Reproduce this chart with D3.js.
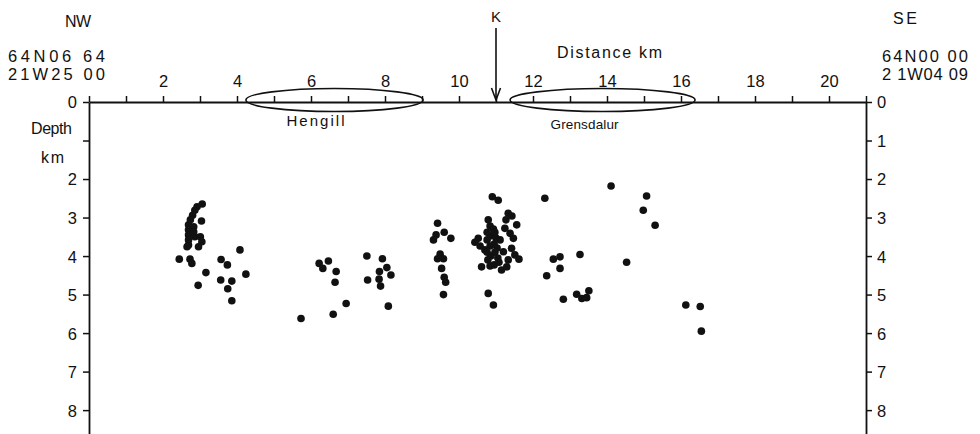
<!DOCTYPE html>
<html>
<head>
<meta charset="utf-8">
<script src="https://cdn.jsdelivr.net/npm/d3@7"></script>
<style>
  body { margin: 0; background: #fff; }
  svg text { font-family: "Liberation Sans", Arial, sans-serif; fill: #111; }
</style>
</head>
<body>
<svg id="chart" width="980" height="434"></svg>
<script>
// earthquake hypocentres: distance along profile (km) and depth (km)
const distKm = [
  3.06, 2.92, 2.86, 2.80, 2.74, 3.04, 2.69, 2.69, 2.69, 2.69, 2.69, 2.83, 2.83, 2.86, 3.01, 3.05, 2.96, 2.65,
  4.08, 2.44, 2.73, 2.78, 3.57, 3.74, 3.16, 4.24, 3.56, 3.86, 2.95, 3.75, 3.86,
  5.73, 6.22, 6.32, 6.47, 6.68, 6.65, 6.95, 6.60,
  7.51, 7.93, 8.05, 7.85, 8.16, 7.53, 7.84, 7.88, 8.09,
  9.42, 9.38, 9.31, 9.60, 9.78, 9.49, 9.42, 9.58, 9.53, 9.60, 9.64, 9.58,
  10.90, 11.06, 11.33, 11.43, 11.27, 11.56, 10.79, 10.84, 10.93, 11.24, 11.38, 11.47, 10.52, 10.43, 10.57,
  10.84, 11.00, 10.84, 11.03, 10.86, 11.05, 10.95, 10.70, 11.20, 11.42, 11.51, 11.62, 11.33, 10.61, 11.15,
  11.29, 10.79, 10.93, 11.11, 10.78,
  10.76, 10.97, 10.76, 10.95, 10.76, 10.97, 11.08, 10.84,
  12.32, 12.55, 12.73, 12.73, 12.37, 12.82, 13.27, 13.18, 13.32, 13.45, 13.51,
  14.11, 15.07, 14.98, 15.30, 14.53, 16.13, 16.52, 16.55
];
const depthKm = [
  2.65, 2.72, 2.81, 2.94, 3.06, 3.09, 3.19, 3.32, 3.45, 3.58, 3.71, 3.24, 3.37, 3.50, 3.50, 3.63, 3.76, 3.76,
  3.84, 4.08, 4.08, 4.19, 4.09, 4.23, 4.43, 4.47, 4.62, 4.65, 4.76, 4.85, 5.16,
  5.62, 4.19, 4.32, 4.13, 4.40, 4.68, 5.23, 5.51,
  4.00, 4.07, 4.30, 4.40, 4.49, 4.62, 4.60, 4.78, 5.30,
  3.15, 3.45, 3.58, 3.38, 3.54, 3.95, 4.07, 4.07, 4.32, 4.55, 4.68, 5.00,
  2.46, 2.55, 2.89, 2.96, 3.06, 3.19, 3.06, 3.22, 3.30, 3.28, 3.41, 3.54, 3.54, 3.64, 3.74,
  3.48, 3.53, 3.74, 3.79, 4.00, 4.05, 4.23, 3.84, 3.89, 3.80, 3.97, 4.08, 4.10, 4.28, 4.36,
  4.28, 4.97, 5.27, 3.58, 4.10,
  3.38, 3.38, 3.58, 3.69, 3.90, 3.90, 4.16, 4.26,
  2.50, 4.08, 4.02, 4.32, 4.51, 5.12, 3.96, 4.99, 5.10, 5.08, 4.90,
  2.18, 2.44, 2.81, 3.20, 4.16, 5.27, 5.31, 5.95
];

// geothermal areas along the profile
const zoneNames = ["Hengill", "Grensdalur"];
const zoneFrom = [4.24, 11.38];
const zoneTo = [9.03, 16.38];

const distTicks = d3.range(0, 22);
const distLabels = [2, 4, 6, 8, 10, 12, 14, 16, 18, 20];
const depthTicks = d3.range(0, 9);
const leftDepthLabels = [0, 2, 3, 4, 5, 6, 7, 8];
const rightDepthLabels = [0, 1, 2, 3, 4, 5, 6, 7, 8];
const kDist = 11.0;

const svg = d3.select("#chart");

const x = d3.scaleLinear().domain([0, 21]).range([89, 866]);
const y = d3.scaleLinear().domain([0, 8.62]).range([102, 434]);

const ink = "#111";

// top distance axis (ticks pointing up)
const topAxis = svg.append("g")
  .attr("transform", `translate(0, ${y(0)})`)
  .call(d3.axisTop(x).tickValues(distTicks).tickSize(6).tickSizeOuter(0)
    .tickFormat(d => distLabels.includes(d) ? d : ""));
topAxis.select(".domain").attr("stroke", ink).attr("stroke-width", 1.8);
topAxis.selectAll(".tick line").attr("stroke", ink).attr("stroke-width", 1.5);
topAxis.selectAll(".tick text")
  .attr("y", -15).attr("dy", 0)
  .style("font-size", "16.5px");

// left depth axis
const leftAxis = svg.append("g")
  .attr("transform", `translate(${x(0)}, 0)`)
  .call(d3.axisLeft(y).tickValues(depthTicks).tickSize(6).tickSizeOuter(0)
    .tickFormat(d => leftDepthLabels.includes(d) ? d : ""));
leftAxis.select(".domain").attr("stroke", ink).attr("stroke-width", 1.8);
leftAxis.selectAll(".tick line").attr("stroke", ink).attr("stroke-width", 1.5);
leftAxis.selectAll(".tick text")
  .attr("x", -12).attr("dy", "0.36em")
  .style("font-size", "16.5px");

// right depth axis
const rightAxis = svg.append("g")
  .attr("transform", `translate(${x(21)}, 0)`)
  .call(d3.axisRight(y).tickValues(depthTicks).tickSize(6).tickSizeOuter(0)
    .tickFormat(d => rightDepthLabels.includes(d) ? d : ""));
rightAxis.select(".domain").attr("stroke", ink).attr("stroke-width", 1.8);
rightAxis.selectAll(".tick line").attr("stroke", ink).attr("stroke-width", 1.5);
rightAxis.selectAll(".tick text")
  .attr("x", 11).attr("dy", "0.36em")
  .style("font-size", "16.5px");

// geothermal areas as flat ellipses on the surface
const zones = zoneNames.map((name, i) => ({ name, from: zoneFrom[i], to: zoneTo[i] }));
svg.selectAll(".zone")
  .data(zones)
  .enter()
  .append("ellipse")
  .attr("class", "zone")
  .attr("cx", d => x((d.from + d.to) / 2))
  .attr("cy", y(0) - 2)
  .attr("rx", d => (x(d.to) - x(d.from)) / 2)
  .attr("ry", 11.5)
  .attr("fill", "none")
  .attr("stroke", ink)
  .attr("stroke-width", 1.6);

svg.selectAll(".zone-label")
  .data(zones)
  .enter()
  .append("text")
  .attr("class", "zone-label")
  .attr("x", (d, i) => x((d.from + d.to) / 2) + (i === 0 ? -19 : -18))
  .attr("y", (d, i) => i === 0 ? 126 : 129)
  .attr("text-anchor", "middle")
  .style("font-size", (d, i) => i === 0 ? "15px" : "13.5px")
  .attr("textLength", (d, i) => i === 0 ? 58 : 68)
  .text(d => d.name);

// K marker arrow
const kx = x(kDist);
svg.append("line")
  .attr("x1", kx).attr("x2", kx).attr("y1", 28).attr("y2", 100)
  .attr("stroke", ink).attr("stroke-width", 1.6);
svg.append("polyline")
  .attr("points", `${kx - 4.5},88 ${kx},100 ${kx + 4.5},88`)
  .attr("fill", "none").attr("stroke", ink).attr("stroke-width", 1.6);
svg.append("text")
  .attr("x", kx).attr("y", 22).attr("text-anchor", "middle")
  .style("font-size", "15px").text("K");

// hypocentres
svg.selectAll(".dot")
  .data(distKm.map((d, i) => [d, depthKm[i]]))
  .enter()
  .append("circle")
  .attr("class", "dot")
  .attr("cx", d => x(d[0]))
  .attr("cy", d => y(d[1]))
  .attr("r", 3.8)
  .attr("fill", ink);

// annotations
function label(txt, px, py, size, anchor, len) {
  const t = svg.append("text")
    .attr("x", px).attr("y", py)
    .attr("text-anchor", anchor)
    .style("font-size", size + "px")
    .text(txt);
  if (len) t.attr("textLength", len).attr("lengthAdjust", "spacing");
  return t;
}

label("NW", 78, 27, 16, "middle", 26);
label("64N06 64", 8, 62, 16.5, "start", 97);
label("21W25 00", 8, 80, 16.5, "start", 97);
label("SE", 905, 24, 16, "middle", 24);
label("64N00 00", 882, 62, 16.5, "start", 86);
label("2 1W04 09", 882, 80, 16.5, "start", 86);
label("Distance km", 557, 58, 16, "start", 105);
label("Depth", 31, 134, 16, "start", 41);
label("km", 41, 163, 16, "start", 23);
</script>
</body>
</html>
